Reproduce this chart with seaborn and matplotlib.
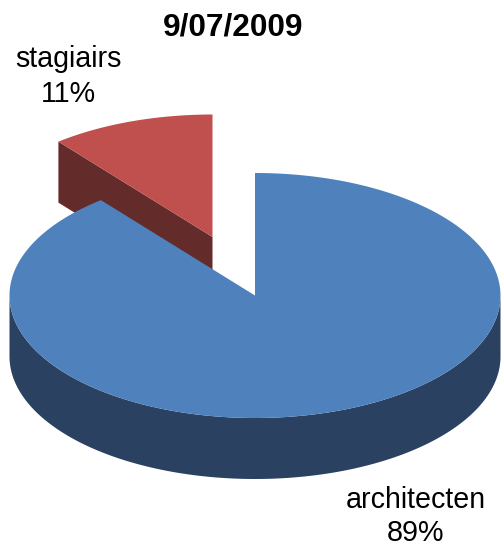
import numpy as np
import matplotlib
matplotlib.use("Agg")
import matplotlib.pyplot as plt
import seaborn as sns

title = "9/07/2009"
labels = ["architecten", "stagiairs"]
label_pcts = [89, 11]
shares = [89.2, 10.8]  # slice sizes

top_colors = sns.color_palette(["#4F81BD", "#C0504D"])
side_colors = sns.color_palette(["#2A4161", "#632C2A"])

# pie geometry in pixels
CX, CY = 255.0, 295.5
RX, RY = 245.5, 122.5
DEPTH = 61.0
RED_SHIFT = (-42.5, -58.5)


def rim(t0, t1, cx, cy, n=200):
    # angle runs clockwise from 12 o'clock
    t = np.radians(np.linspace(t0, t1, n))
    return cx + RX * np.sin(t), cy - RY * np.cos(t)


sns.set_theme(style="white")
plt.rcParams["font.family"] = ["Liberation Sans", "DejaVu Sans"]

fig = plt.figure(figsize=(5.01, 5.46), dpi=100)
ax = fig.add_axes([0, 0, 1, 1])
ax.set_xlim(0, 501)
ax.set_ylim(546, 0)
ax.axis("off")

total = sum(shares)
blue_end = 360 * shares[0] / total
red_end = blue_end + 360 * shares[1] / total

# exploded small slice, cut face first
rcx, rcy = CX + RED_SHIFT[0], CY + RED_SHIFT[1]
ex, ey = rim(blue_end, blue_end, rcx, rcy, n=1)
ax.fill([ex[0], rcx, rcx, ex[0]], [ey[0], rcy, rcy + DEPTH, ey[0] + DEPTH],
        color=side_colors[1], lw=0)
x, y = rim(blue_end, red_end, rcx, rcy)
ax.fill(np.r_[rcx, x], np.r_[rcy, y], color=top_colors[1], lw=0)

# big slice, visible outer wall then top
x, y = rim(90, 270, CX, CY)
ax.fill(np.r_[x, x[::-1]], np.r_[y, y[::-1] + DEPTH], color=side_colors[0], lw=0)
x, y = rim(0, blue_end, CX, CY, n=400)
ax.fill(np.r_[CX, x], np.r_[CY, y], color=top_colors[0], lw=0)

ax.text(233, 36, title, ha="center", va="baseline", fontsize=22.8, fontweight="bold", color="black")
ax.text(416, 508, labels[0], ha="center", va="baseline", fontsize=20.6, color="black")
ax.text(416, 541, f"{label_pcts[0]}%", ha="center", va="baseline", fontsize=20.6, color="black")
ax.text(68, 67, labels[1], ha="center", va="baseline", fontsize=20.6, color="black")
ax.text(68, 102, f"{label_pcts[1]}%", ha="center", va="baseline", fontsize=20.6, color="black")

fig.savefig("out.png", dpi=100)
